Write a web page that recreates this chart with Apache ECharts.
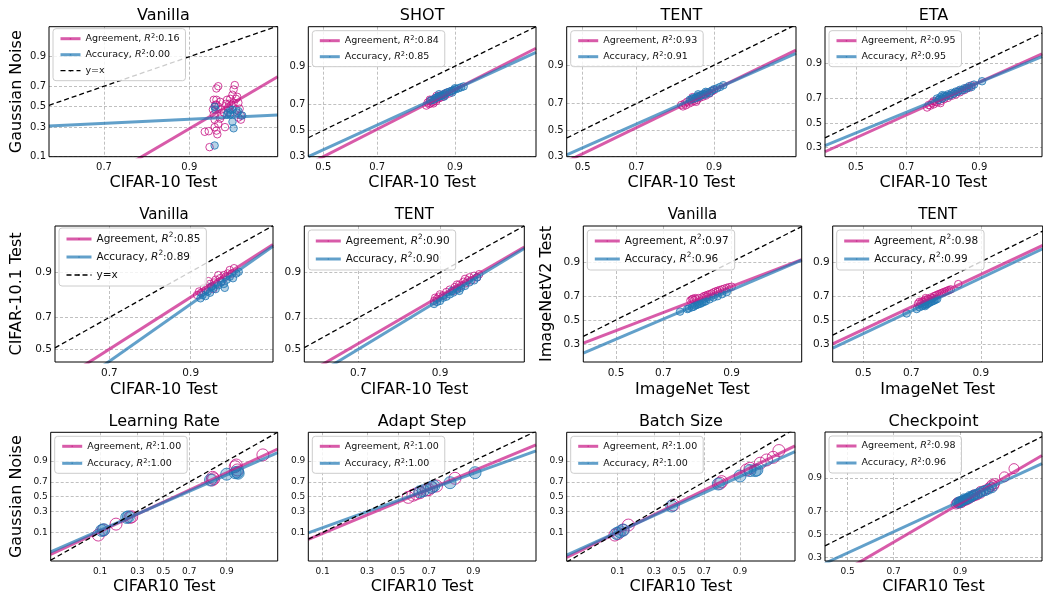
<!DOCTYPE html>
<html>
<head>
<meta charset="utf-8">
<script src="https://cdn.jsdelivr.net/npm/echarts@6.0.0/dist/echarts.min.js"></script>
<style>
  html, body { margin: 0; padding: 0; background: #fff; }
  #chart { width: 1043px; height: 596px; }
</style>
</head>
<body>
<div id="chart"></div>
<script>
// ---- data: accuracies (axes are probit scaled) ----
const titles = ['Vanilla', 'SHOT', 'TENT', 'ETA', 'Vanilla', 'TENT', 'Vanilla', 'TENT',
  'Learning Rate', 'Adapt Step', 'Batch Size', 'Checkpoint']
const xNames = ['CIFAR-10 Test', 'CIFAR-10 Test', 'CIFAR-10 Test', 'CIFAR-10 Test',
  'CIFAR-10 Test', 'CIFAR-10 Test', 'ImageNet Test', 'ImageNet Test',
  'CIFAR10 Test', 'CIFAR10 Test', 'CIFAR10 Test', 'CIFAR10 Test']
const yNames = ['Gaussian Noise', '', '', '', 'CIFAR-10.1 Test', '', 'ImageNetV2 Test', '',
  'Gaussian Noise', '', '', '']
const tickLabels = ['0.1', '0.3', '0.5', '0.7', '0.9']
const agreeR2 = ['0.16', '0.84', '0.93', '0.95', '0.85', '0.90', '0.97', '0.98', '1.00', '1.00', '1.00', '0.98']
const accR2 = ['0.00', '0.85', '0.91', '0.95', '0.89', '0.90', '0.96', '0.99', '1.00', '1.00', '1.00', '0.96']
// linear fits in probit space [slope, intercept]
const agreeFit = [[1.699, -2.741], [1.045, -0.524], [0.983, -0.466], [0.933, -0.32],
  [1.14, -0.601], [1.051, -0.459], [0.761, -0.234], [0.946, -0.21],
  [0.824, -0.196], [0.876, -0.198], [0.837, -0.216], [1.162, -0.784]]
const accFit = [[0.139, -0.50], [0.94, -0.387], [0.895, -0.348], [0.85, -0.216],
  [1.254, -0.862], [1.095, -0.577], [0.846, -0.424], [0.956, -0.302],
  [0.775, -0.213], [0.759, -0.139], [0.776, -0.276], [0.912, -0.417]]
const showYx = [true, false, false, false, true, false, false, false, false, false, false, false]

const p1Agree = [[0.922,0.26],[0.927,0.265],[0.928,0.15],[0.934,0.30],[0.936,0.27],[0.937,0.24],[0.938,0.70],[0.936,0.68],[0.933,0.57],[0.932,0.47],[0.933,0.42],[0.934,0.37],[0.936,0.52],[0.938,0.50],[0.940,0.55],[0.941,0.47],[0.942,0.41],[0.944,0.44],[0.946,0.53],[0.947,0.57],[0.949,0.53],[0.950,0.58],[0.952,0.62],[0.953,0.67],[0.954,0.71],[0.955,0.58],[0.956,0.60],[0.957,0.54],[0.958,0.48],[0.959,0.41],[0.955,0.47],[0.951,0.52],[0.948,0.49],[0.936,0.57],[0.934,0.50],[0.940,0.38],[0.935,0.52],[0.953,0.54],[0.950,0.44],[0.957,0.39],[0.959,0.37],[0.945,0.30],[0.938,0.33]]
const p1Acc = [[0.934,0.50],[0.935,0.47],[0.948,0.44],[0.950,0.42],[0.952,0.35],[0.953,0.29],[0.956,0.44],[0.957,0.455],[0.960,0.41],[0.952,0.47],[0.947,0.42],[0.934,0.16],[0.950,0.47]]
const p2Agree = [[0.842,0.69],[0.845,0.71],[0.848,0.70],[0.850,0.72],[0.852,0.705],[0.855,0.73],[0.857,0.715],[0.86,0.725],[0.862,0.74],[0.864,0.72],[0.866,0.735],[0.868,0.75],[0.87,0.74],[0.872,0.755],[0.874,0.745],[0.876,0.76],[0.878,0.75],[0.88,0.765],[0.883,0.76],[0.886,0.775],[0.89,0.77],[0.895,0.785],[0.85,0.73],[0.858,0.705],[0.865,0.755]]
const p2Acc = [[0.852,0.725],[0.858,0.73],[0.862,0.74],[0.866,0.745],[0.87,0.75],[0.874,0.755],[0.878,0.76],[0.882,0.77],[0.886,0.775],[0.89,0.78],[0.894,0.785],[0.898,0.79],[0.902,0.795],[0.906,0.80],[0.91,0.805],[0.914,0.81],[0.88,0.75],[0.87,0.765],[0.895,0.775],[0.9,0.80]]
const p3Agree = [[0.832,0.690],[0.836,0.680],[0.84,0.70],[0.843,0.688],[0.846,0.712],[0.85,0.700],[0.853,0.718],[0.856,0.708],[0.86,0.730],[0.862,0.718],[0.865,0.735],[0.868,0.725],[0.87,0.745],[0.873,0.738],[0.876,0.752],[0.879,0.745],[0.882,0.760],[0.885,0.752],[0.888,0.768],[0.892,0.765],[0.896,0.778],[0.9,0.785],[0.858,0.742],[0.866,0.712]]
const p3Acc = [[0.852,0.725],[0.856,0.73],[0.86,0.738],[0.864,0.735],[0.868,0.748],[0.872,0.745],[0.876,0.755],[0.88,0.762],[0.884,0.758],[0.888,0.772],[0.892,0.768],[0.896,0.782],[0.9,0.79],[0.905,0.795],[0.91,0.803],[0.915,0.812],[0.87,0.76],[0.885,0.775]]
const p4Agree = [[0.77,0.63],[0.775,0.65],[0.78,0.645],[0.785,0.665],[0.79,0.655],[0.795,0.675],[0.80,0.67],[0.805,0.69],[0.81,0.68],[0.815,0.70],[0.82,0.695],[0.825,0.715],[0.83,0.705],[0.835,0.725],[0.84,0.72],[0.845,0.735],[0.85,0.73],[0.855,0.75],[0.86,0.745],[0.865,0.76],[0.87,0.76],[0.875,0.775],[0.88,0.775],[0.885,0.79],[0.79,0.68],[0.81,0.665]]
const p4Acc = [[0.80,0.70],[0.805,0.69],[0.81,0.71],[0.815,0.70],[0.82,0.72],[0.825,0.715],[0.83,0.73],[0.835,0.722],[0.84,0.74],[0.845,0.735],[0.85,0.75],[0.855,0.748],[0.86,0.762],[0.865,0.758],[0.87,0.772],[0.875,0.77],[0.88,0.785],[0.885,0.78],[0.89,0.795],[0.905,0.815],[0.815,0.725]]
const p5Agree = [[0.91,0.815],[0.913,0.83],[0.916,0.825],[0.92,0.845],[0.922,0.835],[0.925,0.85],[0.928,0.86],[0.93,0.85],[0.933,0.865],[0.935,0.875],[0.937,0.86],[0.94,0.88],[0.942,0.87],[0.944,0.89],[0.946,0.885],[0.948,0.895],[0.95,0.905],[0.952,0.895],[0.954,0.91],[0.938,0.89],[0.926,0.87],[0.932,0.84]]
const p5Acc = [[0.915,0.80],[0.918,0.815],[0.922,0.81],[0.925,0.83],[0.928,0.825],[0.932,0.845],[0.935,0.84],[0.938,0.855],[0.941,0.865],[0.944,0.86],[0.947,0.875],[0.95,0.885],[0.953,0.88],[0.956,0.895],[0.958,0.9],[0.93,0.85],[0.945,0.845]]
const p6Agree = [[0.89,0.79],[0.892,0.805],[0.895,0.80],[0.898,0.81],[0.90,0.82],[0.905,0.815],[0.91,0.83],[0.915,0.84],[0.92,0.835],[0.922,0.85],[0.925,0.845],[0.928,0.86],[0.93,0.855],[0.933,0.87],[0.936,0.865],[0.938,0.875],[0.94,0.885],[0.942,0.875],[0.945,0.89],[0.948,0.885],[0.95,0.895],[0.935,0.88],[0.925,0.86]]
const p6Acc = [[0.89,0.775],[0.895,0.785],[0.9,0.79],[0.905,0.805],[0.91,0.81],[0.915,0.82],[0.92,0.828],[0.925,0.84],[0.93,0.848],[0.935,0.855],[0.94,0.868],[0.945,0.875],[0.948,0.885],[0.918,0.835],[0.928,0.835]]
const p7Agree = [[0.795,0.665],[0.80,0.675],[0.803,0.68],[0.806,0.67],[0.81,0.685],[0.813,0.675],[0.82,0.685],[0.83,0.69],[0.835,0.70],[0.84,0.705],[0.845,0.71],[0.85,0.715],[0.855,0.72],[0.86,0.728],[0.865,0.735],[0.87,0.74],[0.875,0.745],[0.88,0.75],[0.885,0.755],[0.89,0.76],[0.895,0.765],[0.9,0.768],[0.842,0.695],[0.87,0.73]]
const p7Acc = [[0.761,0.573],[0.785,0.595],[0.79,0.60],[0.80,0.61],[0.805,0.615],[0.81,0.625],[0.815,0.63],[0.82,0.637],[0.825,0.64],[0.83,0.648],[0.835,0.655],[0.84,0.66],[0.85,0.675],[0.86,0.69],[0.87,0.70],[0.88,0.715],[0.89,0.73]]
const p8Agree = [[0.725,0.64],[0.73,0.655],[0.735,0.645],[0.74,0.66],[0.745,0.655],[0.75,0.67],[0.755,0.665],[0.76,0.68],[0.765,0.675],[0.77,0.69],[0.775,0.685],[0.78,0.70],[0.785,0.705],[0.79,0.71],[0.795,0.715],[0.80,0.72],[0.805,0.725],[0.81,0.73],[0.815,0.735],[0.82,0.74],[0.825,0.745],[0.83,0.75],[0.85,0.785],[0.752,0.685]]
const p8Acc = [[0.682,0.557],[0.72,0.595],[0.73,0.61],[0.74,0.62],[0.745,0.628],[0.75,0.635],[0.755,0.632],[0.76,0.64],[0.765,0.648],[0.77,0.655],[0.775,0.66],[0.78,0.665],[0.785,0.672],[0.79,0.678],[0.75,0.62]]
const p9Agree = [[0.094,0.084],[0.112,0.115],[0.169,0.162],[0.25,0.228],[0.261,0.235],[0.838,0.725],[0.841,0.756],[0.846,0.74],[0.927,0.859],[0.93,0.872],[0.933,0.831],[0.978,0.933]]
const p9Acc = [[0.106,0.112],[0.114,0.118],[0.229,0.228],[0.24,0.235],[0.83,0.725],[0.90,0.79],[0.927,0.805],[0.933,0.81],[0.935,0.80]]
const p10Agree = [[0.569,0.49],[0.60,0.52],[0.62,0.538],[0.645,0.556],[0.687,0.594],[0.70,0.60],[0.716,0.631],[0.744,0.649],[0.834,0.745]]
const p10Acc = [[0.645,0.57],[0.666,0.584],[0.716,0.631],[0.729,0.649],[0.812,0.692],[0.905,0.805]]
const p11Agree = [[0.09,0.084],[0.102,0.093],[0.12,0.115],[0.145,0.154],[0.454,0.382],[0.806,0.684],[0.815,0.705],[0.922,0.831],[0.932,0.846],[0.956,0.885],[0.967,0.906],[0.976,0.921],[0.982,0.951]]
const p11Acc = [[0.096,0.093],[0.109,0.104],[0.122,0.115],[0.441,0.368],[0.796,0.675],[0.90,0.771],[0.932,0.825],[0.945,0.825],[0.949,0.831]]
const p12Agree = [[0.892,0.755],[0.895,0.765],[0.898,0.76],[0.90,0.77],[0.903,0.765],[0.906,0.775],[0.91,0.78],[0.913,0.785],[0.916,0.79],[0.92,0.80],[0.923,0.805],[0.926,0.81],[0.93,0.815],[0.935,0.825],[0.94,0.84],[0.945,0.85],[0.948,0.86],[0.95,0.87],[0.952,0.865],[0.953,0.875],[0.963,0.904],[0.971,0.932],[0.935,0.835],[0.925,0.815]]
const p12Acc = [[0.895,0.762],[0.898,0.77],[0.90,0.765],[0.903,0.775],[0.906,0.78],[0.91,0.785],[0.913,0.79],[0.916,0.795],[0.92,0.80],[0.923,0.81],[0.926,0.815],[0.93,0.82],[0.934,0.828],[0.938,0.835],[0.942,0.84],[0.946,0.848],[0.95,0.855],[0.908,0.79],[0.918,0.805]]

const agreePts = [p1Agree, p2Agree, p3Agree, p4Agree, p5Agree, p6Agree, p7Agree, p8Agree, p9Agree, p10Agree, p11Agree, p12Agree]
const accPts = [p1Acc, p2Acc, p3Acc, p4Acc, p5Acc, p6Acc, p7Acc, p8Acc, p9Acc, p10Acc, p11Acc, p12Acc]

// ---- layout: grid box [left, top, width, height], axis extents in probit units ----
const layout = [
  { grid: [49, 26.7, 228.7, 130], x: [0.036, 2.066], y: [-1.2816, 2.05], row: 0, sym: 7.5 },
  { grid: [308.3, 26.7, 227.7, 130], x: [-0.146, 2.07], y: [-0.5245, 2.069], row: 0, sym: 7.5 },
  { grid: [566.7, 26.7, 229.3, 130], x: [-0.156, 2.081], y: [-0.5245, 2.04], row: 0, sym: 7.5 },
  { grid: [825, 26.7, 217, 130], x: [-0.322, 1.933], y: [-0.727, 2.07], row: 0, sym: 7.5 },
  { grid: [55, 226, 218, 136], x: [0.019, 2.047], y: [-0.216, 2.042], row: 1, sym: 7.5 },
  { grid: [304.3, 226, 220, 136], x: [0.024, 2.063], y: [-0.216, 2.06], row: 1, sym: 7.5 },
  { grid: [583.3, 226, 218.4, 136], x: [-0.362, 2.057], y: [-0.926, 2.07], row: 1, sym: 7.5 },
  { grid: [832.7, 226, 210, 136], x: [-0.333, 1.957], y: [-0.926, 2.07], row: 1, sym: 7.5 },
  { grid: [50.7, 432.3, 227, 128.7], x: [-2.28, 2.314], y: [-2.31, 2.31], row: 2, sym: 12 },
  { grid: [308.3, 432.3, 227.7, 128.7], x: [-1.526, 2.348], y: [-2.31, 2.31], row: 2, sym: 12 },
  { grid: [566.7, 432.3, 228.3, 128.7], x: [-2.35, 2.434], y: [-2.31, 2.31], row: 2, sym: 12 },
  { grid: [825, 432, 217, 129], x: [-0.257, 2.215], y: [-0.6, 2.32], row: 2, sym: 10 }
]
const rowStyle = [
  { title: 16, titleY: 15.5, tick: 10, legend: 9.5, icon: 20, lineH: 12, gap: 4, xGap: 18, yGap: 24 },
  { title: 15, titleY: 215, tick: 10.5, legend: 10.5, icon: 25, lineH: 14, gap: 4, xGap: 20, yGap: 29 },
  { title: 16, titleY: 421.5, tick: 9, legend: 9.5, icon: 20, lineH: 12, gap: 5, xGap: 17.5, yGap: 26 }
]
const yGapOverride = { 0: 24, 4: 30, 6: 28, 8: 26 }

const FONT = 'DejaVu Sans'
const pinkLine = 'rgba(199,21,133,0.7)'
const blueLine = 'rgba(31,119,180,0.7)'

// inverse normal cdf (Acklam)
function probit(p) {
  const a = [-3.969683028665376e+01, 2.209460984245205e+02, -2.759285104469687e+02, 1.383577518672690e+02, -3.066479806614716e+01, 2.506628277459239e+00]
  const b = [-5.447609879822406e+01, 1.615858368580409e+02, -1.556989798598866e+02, 6.680131188771972e+01, -1.328068155288572e+01]
  const c = [-7.784894002430293e-03, -3.223964580411365e-01, -2.400758277161838e+00, -2.549732539343734e+00, 4.374664141464968e+00, 2.938163982698783e+00]
  const d = [7.784695709041462e-03, 3.224671290700398e-01, 2.445134137142996e+00, 3.754408661907416e+00]
  const pl = 0.02425
  let q, r
  if (p < pl) {
    q = Math.sqrt(-2 * Math.log(p))
    return (((((c[0] * q + c[1]) * q + c[2]) * q + c[3]) * q + c[4]) * q + c[5]) / ((((d[0] * q + d[1]) * q + d[2]) * q + d[3]) * q + 1)
  }
  if (p > 1 - pl) {
    q = Math.sqrt(-2 * Math.log(1 - p))
    return -(((((c[0] * q + c[1]) * q + c[2]) * q + c[3]) * q + c[4]) * q + c[5]) / ((((d[0] * q + d[1]) * q + d[2]) * q + d[3]) * q + 1)
  }
  q = p - 0.5
  r = q * q
  return (((((a[0] * r + a[1]) * r + a[2]) * r + a[3]) * r + a[4]) * r + a[5]) * q / (((((b[0] * r + b[1]) * r + b[2]) * r + b[3]) * r + b[4]) * r + 1)
}
const tickVals = tickLabels.map(t => probit(parseFloat(t)))
function labelOf(v) {
  let best = 0
  tickVals.forEach((t, i) => { if (Math.abs(t - v) < Math.abs(tickVals[best] - v)) best = i })
  return tickLabels[best]
}
const toProbit = pts => pts.map(p => [probit(p[0]), probit(p[1])])

const grids = [], xAxes = [], yAxes = [], series = [], legends = [], graphics = []

layout.forEach((L, i) => {
  const rs = rowStyle[L.row]
  const [gl, gt, gw, gh] = L.grid
  grids.push({ left: gl, top: gt, width: gw, height: gh, show: true, z: 10, borderColor: '#000', borderWidth: 1, backgroundColor: 'transparent' })

  const mkAxis = (range, isX) => {
    const vals = tickVals.filter(v => v >= range[0] && v <= range[1])
    return {
      type: 'value', gridIndex: i, min: range[0], max: range[1],
      axisLine: { show: false },
      axisTick: { show: false, customValues: vals },
      axisLabel: { customValues: vals, formatter: labelOf, fontSize: rs.tick, color: '#111', fontFamily: FONT, margin: isX ? 6 : 3 },
      splitLine: { show: true, lineStyle: { color: '#b0b0b0', type: [3, 2], width: 0.8 } },
      name: isX ? xNames[i] : yNames[i],
      nameLocation: 'middle',
      nameGap: isX ? rs.xGap : (yGapOverride[i] || rs.yGap),
      nameTextStyle: { fontSize: 16, color: '#000', fontFamily: FONT }
    }
  }
  xAxes.push(mkAxis(L.x, true))
  yAxes.push(mkAxis(L.y, false))

  graphics.push({
    type: 'text', x: gl + gw / 2, y: rs.titleY,
    style: { text: titles[i], fontSize: rs.title, fontFamily: FONT, fill: '#000', align: 'center', verticalAlign: 'middle' }
  })

  const x0 = L.x[0], x1 = L.x[1]
  const fitLine = f => [[x0, f[0] * x0 + f[1]], [x1, f[0] * x1 + f[1]]]
  const names = []

  series.push({
    type: 'scatter', xAxisIndex: i, yAxisIndex: i, z: 2, silent: true,
    symbolSize: L.sym, data: toProbit(agreePts[i]),
    itemStyle: { color: 'rgba(255,255,255,0)', borderColor: '#c71585', borderWidth: 1 }
  })
  series.push({
    type: 'scatter', xAxisIndex: i, yAxisIndex: i, z: 2, silent: true,
    symbolSize: L.sym, data: toProbit(accPts[i]),
    itemStyle: { color: 'rgba(31,119,180,0.4)', borderColor: '#1f77b4', borderWidth: 1 }
  })
  const agName = 'Agreement|' + agreeR2[i] + '|' + i
  const acName = 'Accuracy|' + accR2[i] + '|' + i
  names.push({ name: agName, lineStyle: { width: 3 } }, { name: acName, lineStyle: { width: 3 } })
  series.push({
    type: 'line', name: agName, xAxisIndex: i, yAxisIndex: i, z: 3, silent: true,
    symbol: 'none', data: fitLine(agreeFit[i]),
    lineStyle: { color: pinkLine, width: 3 }, itemStyle: { color: pinkLine }
  })
  series.push({
    type: 'line', name: acName, xAxisIndex: i, yAxisIndex: i, z: 3, silent: true,
    symbol: 'none', data: fitLine(accFit[i]),
    lineStyle: { color: blueLine, width: 3 }, itemStyle: { color: blueLine }
  })
  const yxName = 'y=x|' + i
  if (showYx[i]) names.push({ name: yxName, lineStyle: { width: 1.3 } })
  series.push({
    type: 'line', name: yxName, xAxisIndex: i, yAxisIndex: i, z: 3, silent: true,
    symbol: 'none', data: [[x0, x0], [x1, x1]],
    lineStyle: { color: '#000', width: 1.3, type: [5, 3] }, itemStyle: { color: '#000' }
  })

  legends.push({
    data: names, orient: 'vertical', left: gl + 4, top: gt + (showYx[i] ? 2 : 4),
    itemWidth: rs.icon, itemHeight: 2, itemGap: rs.gap,
    padding: [4, 6, 4, 6], backgroundColor: 'rgba(255,255,255,0.8)',
    borderColor: '#cccccc', borderWidth: 1, borderRadius: 3,
    selectedMode: false,
    formatter: n => {
      const parts = n.split('|')
      if (parts[0] === 'y=x') return 'y=x'
      return parts[0] + ', {it|R}{sup|2}:' + parts[1]
    },
    textStyle: {
      fontSize: rs.legend, fontFamily: FONT, color: '#111', lineHeight: rs.lineH,
      rich: {
        it: { fontStyle: 'italic', fontSize: rs.legend, fontFamily: FONT, color: '#111', lineHeight: rs.lineH },
        sup: { fontSize: rs.legend * 0.7, fontFamily: FONT, color: '#111', verticalAlign: 'top', lineHeight: rs.lineH }
      }
    }
  })
})

const myChart = echarts.init(document.getElementById('chart'), null, { renderer: 'canvas' })
myChart.setOption({
  animation: false,
  backgroundColor: '#fff',
  grid: grids,
  xAxis: xAxes,
  yAxis: yAxes,
  legend: legends,
  graphic: graphics,
  series: series
})
</script>
</body>
</html>
